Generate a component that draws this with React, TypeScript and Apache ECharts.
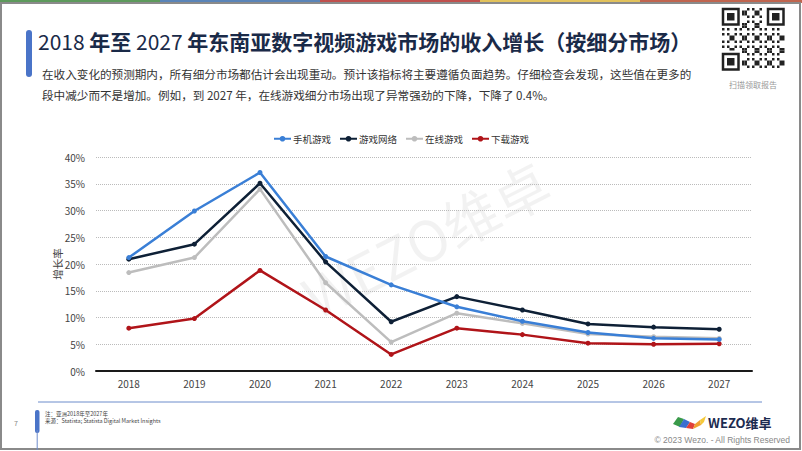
import React, { useEffect, useRef } from "react";
import * as echarts from "echarts";

const years = ["2018", "2019", "2020", "2021", "2022", "2023", "2024", "2025", "2026", "2027"];
const mobileGames = [21.2, 29.9, 37.1, 21.4, 16.1, 12.0, 9.3, 7.2, 6.1, 5.9];
const gamesNetwork = [20.9, 23.7, 35.1, 20.4, 9.2, 13.9, 11.4, 8.8, 8.2, 7.8];
const onlineGames = [18.4, 21.2, 34.0, 16.5, 5.4, 10.8, 8.9, 6.9, 6.4, 6.1];
const downloadGames = [8.0, 9.8, 18.8, 11.4, 3.1, 8.0, 6.8, 5.2, 5.0, 5.1];
const seriesNames = ["手机游戏", "游戏网络", "在线游戏", "下载游戏"];
const seriesColors = ["#3a7fd6", "#0e2036", "#bdbdbd", "#b01419"];

const FONT = '"Noto Sans CJK SC", "Noto Sans", sans-serif';

function qrModules() {
  const els: any[] = [];
  const n = 25;
  const s = 2.5;
  const x0 = 722;
  const y0 = 8;
  const inFinder = (i: number, j: number) =>
    (i < 8 && j < 8) || (i < 8 && j >= n - 8) || (i >= n - 8 && j < 8);
  for (let i = 0; i < n; i++) {
    for (let j = 0; j < n; j++) {
      if (inFinder(i, j)) continue;
      if ((i * 7 + j * 13 + i * j * 3) % 5 < 2) {
        els.push({ type: "rect", shape: { x: x0 + j * s, y: y0 + i * s, width: s, height: s }, style: { fill: "#222" } });
      }
    }
  }
  const finder = (fx: number, fy: number) => {
    els.push({ type: "rect", shape: { x: fx + 1, y: fy + 1, width: 15.5, height: 15.5 }, style: { fill: "none", stroke: "#222", lineWidth: 2.5 } });
    els.push({ type: "rect", shape: { x: fx + 5, y: fy + 5, width: 7.5, height: 7.5 }, style: { fill: "#222" } });
  };
  finder(x0, y0);
  finder(x0 + (n - 7) * s, y0);
  finder(x0, y0 + (n - 7) * s);
  return els;
}

export default function App() {
  const ref = useRef<HTMLDivElement>(null);
  useEffect(() => {
    if (!ref.current) return;
    const chart = echarts.init(ref.current, undefined, { renderer: "svg" });
    const data = [mobileGames, gamesNetwork, onlineGames, downloadGames];
    chart.setOption({
      animation: false,
      backgroundColor: "#ffffff",
      textStyle: { fontFamily: FONT },
      legend: {
        top: 129,
        left: "center",
        itemWidth: 17,
        itemHeight: 7,
        itemGap: 8,
        textStyle: { fontSize: 9.5, color: "#333", fontFamily: FONT, padding: [0, 0, 0, -3] },
        data: seriesNames,
      },
      grid: { left: 96, right: 50, top: 157, bottom: 80 },
      xAxis: {
        type: "category",
        data: years,
        axisLine: { lineStyle: { color: "#1a1a1a", width: 2 } },
        axisTick: { show: false },
        axisLabel: { color: "#444", fontSize: 10, margin: 7, fontFamily: FONT },
      },
      yAxis: {
        type: "value",
        min: 0,
        max: 40,
        interval: 5,
        name: "增长率",
        nameLocation: "middle",
        nameGap: 33,
        nameRotate: 90,
        nameMoveOverlap: false,
        nameTextStyle: { fontSize: 10.5, color: "#444", fontFamily: FONT },
        axisLabel: { formatter: "{value}%", color: "#444", fontSize: 10, margin: 11, fontFamily: FONT },
        axisLine: { show: false },
        axisTick: { show: false },
        splitLine: { lineStyle: { color: "#bbbbbb", type: "dotted", width: 1 } },
      },
      series: seriesNames.map((name, k) => ({
        name,
        type: "line",
        data: data[k],
        symbol: "circle",
        symbolSize: 5,
        z: k === 0 ? 5 : 4 - k,
        lineStyle: { width: 2.5, color: seriesColors[k] },
        itemStyle: { color: seriesColors[k] },
      })),
      graphic: [
        // watermark
        {
          type: "text",
          x: 425,
          y: 238,
          rotation: (27 * Math.PI) / 180,
          z: 0,
          style: {
            text: "WEZO维卓",
            fontSize: 56,
            fontFamily: FONT,
            fill: "rgba(0,0,0,0.05)",
            align: "center",
            verticalAlign: "middle",
          },
        },
        // top stripes
        { type: "rect", shape: { x: 0, y: 0, width: 160, height: 3 }, style: { fill: "#5d9a5c" } },
        { type: "rect", shape: { x: 160, y: 0, width: 160, height: 3 }, style: { fill: "#5a84b8" } },
        { type: "rect", shape: { x: 320, y: 0, width: 160, height: 3 }, style: { fill: "#c0504d" } },
        { type: "rect", shape: { x: 480, y: 0, width: 160, height: 3 }, style: { fill: "#e2c25c" } },
        { type: "rect", shape: { x: 640, y: 0, width: 162, height: 3 }, style: { fill: "#c0654f" } },
        // page border
        { type: "rect", shape: { x: 1, y: 3, width: 799, height: 446 }, style: { fill: "none", stroke: "#8a8a8a", lineWidth: 2 } },
        // title accent
        { type: "rect", shape: { x: 26, y: 30, width: 6, height: 47, r: 3 }, style: { fill: "#4a74c8" } },
        {
          type: "text",
          x: 38,
          y: 41,
          style: {
            text: "{n|2018 }{b|年至}{n| 2027 }{b|年东南亚数字视频游戏市场的收入增长（按细分市场）}",
            verticalAlign: "middle",
            rich: {
              n: { fontSize: 21, fontFamily: FONT, fill: "#1a2a48", fontWeight: "normal" },
              b: { fontSize: 21, fontFamily: FONT, fill: "#1a2a48", fontWeight: "bold" },
            },
          },
        },
        {
          type: "text",
          x: 42,
          y: 74,
          style: {
            text: "在收入变化的预测期内，所有细分市场都估计会出现重动。预计该指标将主要遵循负面趋势。仔细检查会发现，这些值在更多的",
            fontSize: 11.6,
            fontFamily: FONT,
            fill: "#333",
            verticalAlign: "middle",
          },
        },
        {
          type: "text",
          x: 42,
          y: 95,
          style: {
            text: "段中减少而不是增加。例如，到 2027 年，在线游戏细分市场出现了异常强劲的下降，下降了 0.4%。",
            fontSize: 11.6,
            fontFamily: FONT,
            fill: "#333",
            verticalAlign: "middle",
          },
        },
        // QR
        { type: "group", children: qrModules() },
        {
          type: "text",
          x: 753,
          y: 84,
          style: { text: "扫描领取报告", fontSize: 8, fontFamily: FONT, fill: "#999", align: "center", verticalAlign: "middle" },
        },
        // footer
        { type: "line", shape: { x1: 38, y1: 402, x2: 762, y2: 402 }, style: { stroke: "#6d8ccb", lineWidth: 1 } },
        { type: "rect", shape: { x: 35, y: 410, width: 4.5, height: 23, r: 2 }, style: { fill: "#4a74c8" } },
        { type: "line", shape: { x1: 37.2, y1: 430, x2: 37.2, y2: 450 }, style: { stroke: "#6d8ccb", lineWidth: 1 } },
        { type: "text", x: 16, y: 423, style: { text: "7", fontSize: 7, fontFamily: FONT, fill: "#888", align: "center", verticalAlign: "middle" } },
        { type: "text", x: 45, y: 414, style: { text: "注：亚洲2018年至2027年", fontSize: 5.5, fontFamily: FONT, fill: "#444", verticalAlign: "middle" } },
        { type: "text", x: 45, y: 421, style: { text: "来源：Statista; Statista Digital Market Insights", fontSize: 5.5, fontFamily: FONT, fill: "#444", verticalAlign: "middle" } },
        // logo swoosh
        { type: "polygon", shape: { points: [[673, 424], [678, 417], [684, 419], [680, 427]] }, style: { fill: "#3a9a4a" } },
        { type: "polygon", shape: { points: [[679, 427], [684, 419], [690, 422], [686, 428]] }, style: { fill: "#3a6fd0" } },
        { type: "polygon", shape: { points: [[686, 428], [690, 422], [695, 424], [693, 429]] }, style: { fill: "#e0403a" } },
        { type: "polygon", shape: { points: [[693, 429], [695, 424], [700, 420], [701, 425]] }, style: { fill: "#f0a030" } },
        { type: "polygon", shape: { points: [[700, 420], [706, 416], [704, 422], [701, 425]] }, style: { fill: "#f5c93a" } },
        { type: "text", x: 708, y: 422, style: { text: "WEZO维卓", fontSize: 13, fontWeight: "bold", fontFamily: FONT, fill: "#1c2b50", verticalAlign: "middle" } },
        { type: "text", x: 790, y: 440, style: { text: "© 2023 Wezo. - All Rights Reserved", fontSize: 8.5, fontFamily: '"Liberation Sans", Arial, sans-serif', fill: "#888", align: "right", verticalAlign: "middle" } },
      ],
    });
    return () => chart.dispose();
  }, []);
  return (
    <div
      ref={ref}
      style={{ position: "fixed", left: 0, top: 0, width: 802, height: 451, background: "#fff" }}
    />
  );
}
